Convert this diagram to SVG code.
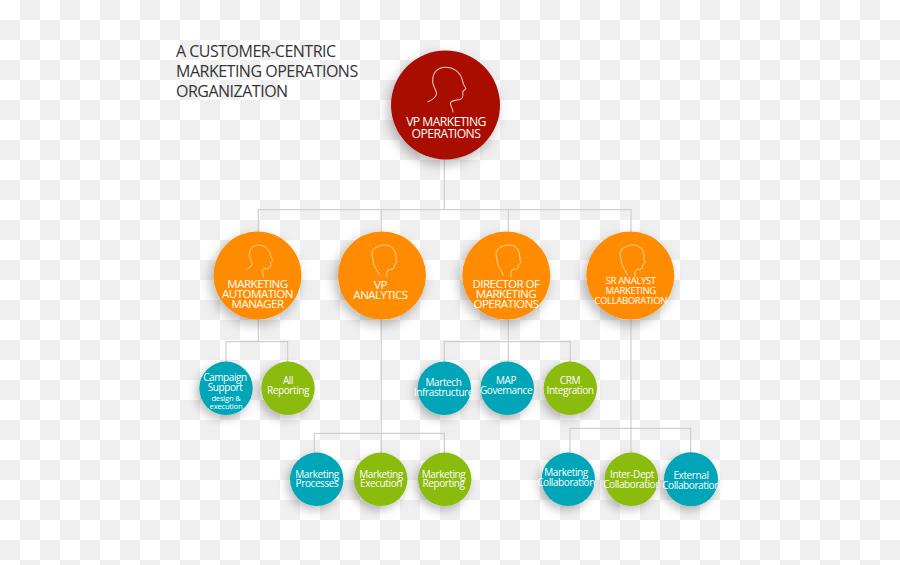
<svg xmlns="http://www.w3.org/2000/svg" width="900" height="565" viewBox="0 0 900 565">
<style>
text{font-family:"Open Sans","Noto Sans","Liberation Sans",sans-serif;fill:#fff;text-anchor:middle}
.title{fill:#333;text-anchor:start;font-size:16px;letter-spacing:-.5px}
.red{fill:#a91000}.org{fill:#ff8c00}.teal{fill:#00a5b8}.grn{fill:#8abb10}
.big{filter:url(#sb)}.sm{filter:url(#ss)}
.head{fill:none;stroke:#fff;stroke-opacity:.75;stroke-width:1.1;stroke-linecap:round;stroke-linejoin:round}
.t1{font-size:12.2px;letter-spacing:-.55px}
.t2{font-size:11.6px;letter-spacing:-.55px}
.t3{font-size:10px;letter-spacing:-.4px}
.t4{font-size:9.6px;letter-spacing:-.4px}
.t5{font-size:7.6px;letter-spacing:-.2px}
#conn path{fill:none;stroke:#cfcfcf;stroke-width:1.2}
</style>
<defs>
<pattern id="chk" width="40" height="40" patternUnits="userSpaceOnUse"><rect width="40" height="40" fill="#fff"/><rect x="20" width="20" height="20" fill="#efefef"/><rect y="20" width="20" height="20" fill="#efefef"/></pattern>
<filter id="sb" x="-40%" y="-40%" width="180%" height="180%"><feDropShadow dx="-3" dy="5" stdDeviation="6" flood-color="#000" flood-opacity=".28"/></filter>
<filter id="ss" x="-40%" y="-40%" width="180%" height="180%"><feDropShadow dx="-3" dy="4" stdDeviation="5" flood-color="#000" flood-opacity=".26"/></filter>
<path id="head1" class="head" d="M-19,12.2C-15,10.5-11,7.5-10.5,4.5C-10,.5-15-3.5-14.3-9.5C-14-17.5-9-22-2-22.2C6-22.5 13-17.5 15-10.5C16-6.5 16-4.5 19-1C18,.5 16,1 15.7,2.5C16,5.5 17,8.5 13,10C9,11 4,10.5 3.5,13.5C3,16.5 6,18.5 6,22.5"/>
<path id="head2" class="head" d="M-5,14C-7,9-11,5-11,.7C-11-2-12.5-4-12.3-7.7C-12-11-10-13-6.6-14.3C-3-16-1-16 1.7-16C5-15.8 8-14 10-11C11.5-8.5 11.5-4 11.7-1C12,0 12.7,.5 12.7,1C12,2 10.5,3 10.3,4C10.3,5 10,7 8.5,8C7,8.7 5,8 3.8,9C2.5,10 2,12 2.7,15.7" style="stroke-width:.85"/>
</defs>
<rect id="background" width="900" height="565" fill="url(#chk)"/>
<text class="title" x="176" y="57">A CUSTOMER-CENTRIC</text>
<text class="title" x="176" y="77">MARKETING OPERATIONS</text>
<text class="title" x="176" y="97">ORGANIZATION</text>
<g id="conn">
<path d="M444.3,158V209.7"/>
<path d="M258.3,235V209.7H631V235M381.3,209.7V235M508.3,209.7V235"/>
<path d="M258.3,318V341.7M226,364V341.7H287.7V364"/>
<path d="M381.3,318V455M314.3,455V433.3H444.3V455"/>
<path d="M508.3,318V364M444.3,364V341.7H570.3V364"/>
<path d="M631,318V455M570,455V428.3H690.7V455"/>
</g>
<g id="vp-marketing-operations"><circle class="red big" cx="445.5" cy="105" r="54.5"/><use href="#head1" transform="translate(447,89.5)"/><text class="t1" x="446" y="126">VP MARKETING</text><text class="t1" x="446" y="138">OPERATIONS</text></g>
<g id="marketing-automation-manager"><circle class="org big" cx="257.5" cy="275.5" r="44"/><use href="#head1" transform="translate(259.5,261) scale(.71)"/><text class="t2" x="257.5" y="288">MARKETING</text><text class="t2" x="257.5" y="298">AUTOMATION</text><text class="t2" x="257.5" y="307.5">MANAGER</text></g>
<g id="vp-analytics"><circle class="org big" cx="382" cy="275.5" r="44"/><use href="#head2" transform="translate(384.3,261)"/><text class="t2" x="380.5" y="288.5">VP</text><text class="t2" x="380.5" y="299">ANALYTICS</text></g>
<g id="director-of-marketing-operations"><circle class="org big" cx="506.3" cy="275.5" r="44"/><use href="#head2" transform="translate(508.3,261)"/><text class="t2" x="506" y="288">DIRECTOR OF</text><text class="t2" x="506" y="298">MARKETING</text><text class="t2" x="506" y="308">OPERATIONS</text></g>
<g id="sr-analyst-marketing-collaboration"><circle class="org big" cx="630.3" cy="275.5" r="44"/><use href="#head2" transform="translate(632.5,261)"/><text class="t4" x="630.7" y="284">SR ANALYST</text><text class="t4" x="630.7" y="294">MARKETING</text><text class="t4" x="630.7" y="303.5">COLLABORATION</text></g>
<g id="campaign-support"><circle class="teal sm" cx="226" cy="388.3" r="26.7"/><text class="t3" x="225" y="380.5">Campaign</text><text class="t3" x="225" y="390.5">Support</text><text class="t5" x="226" y="400.5">design &amp;</text><text class="t5" x="226" y="409">execution</text></g>
<g id="all-reporting"><circle class="grn sm" cx="288" cy="388.3" r="26.7"/><text class="t3" x="288" y="383.5">All</text><text class="t3" x="288" y="393.5">Reporting</text></g>
<g id="martech-infrastructure"><circle class="teal sm" cx="444.3" cy="388.3" r="26.7"/><text class="t3" x="443.5" y="385.5">Martech</text><text class="t3" x="443.5" y="395.5">Infrastructure</text></g>
<g id="map-governance"><circle class="teal sm" cx="507.3" cy="388.3" r="26.7"/><text class="t3" x="506" y="383.5">MAP</text><text class="t3" x="506" y="393.5">Governance</text></g>
<g id="crm-integration"><circle class="grn sm" cx="570.3" cy="388.3" r="26.7"/><text class="t3" x="570" y="383.5">CRM</text><text class="t3" x="570" y="393.5">Integration</text></g>
<g id="marketing-processes"><circle class="teal sm" cx="316.7" cy="479.3" r="26.7"/><text class="t3" x="317" y="478">Marketing</text><text class="t3" x="317" y="487">Processes</text></g>
<g id="marketing-execution"><circle class="grn sm" cx="380.7" cy="479.3" r="26.7"/><text class="t3" x="381" y="478">Marketing</text><text class="t3" x="381" y="487">Execution</text></g>
<g id="marketing-reporting"><circle class="grn sm" cx="444.7" cy="479.3" r="26.7"/><text class="t3" x="443.5" y="478">Marketing</text><text class="t3" x="443.5" y="487">Reporting</text></g>
<g id="marketing-collaboration"><circle class="teal sm" cx="568.3" cy="479.3" r="26.7"/><text class="t3" x="566" y="476">Marketing</text><text class="t3" x="566" y="485.5">Collaboration</text></g>
<g id="inter-dept-collaboration"><circle class="grn sm" cx="631.3" cy="479.3" r="26.7"/><text class="t3" x="632" y="478">Inter-Dept</text><text class="t3" x="632" y="488">Collaboration</text></g>
<g id="external-collaboration"><circle class="teal sm" cx="691" cy="479.3" r="27"/><text class="t3" x="691" y="479">External</text><text class="t3" x="691" y="488.5">Collaboration</text></g>
</svg>
